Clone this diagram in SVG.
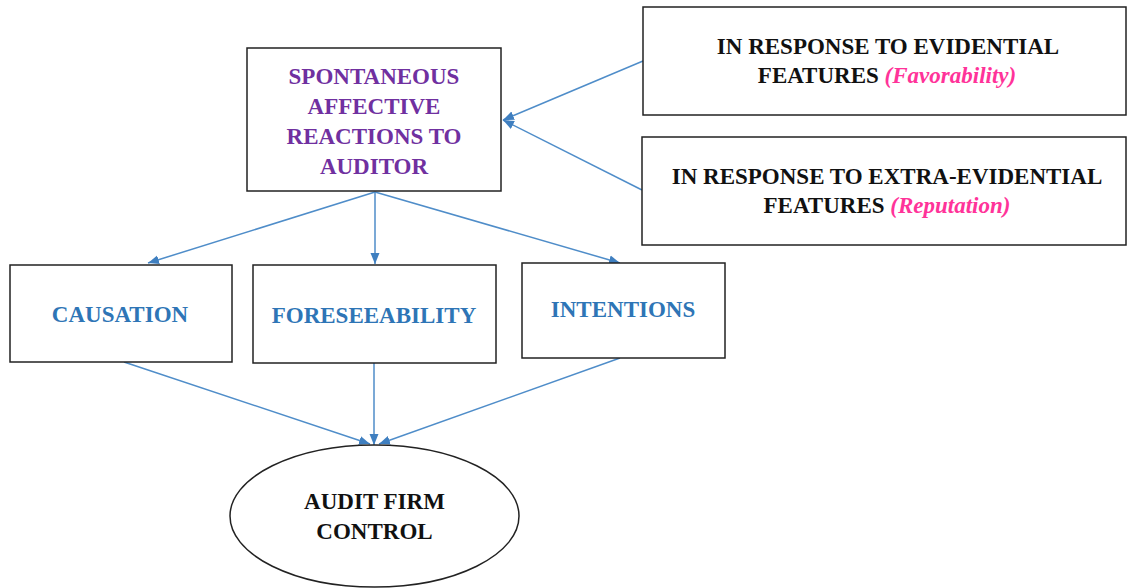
<svg xmlns="http://www.w3.org/2000/svg" width="1127" height="588" viewBox="0 0 1127 588">
<defs>
<marker id="ah" markerUnits="userSpaceOnUse" markerWidth="12" markerHeight="12" viewBox="0 0 12 12" refX="11" refY="6" orient="auto">
<path d="M0,1.5 L11,6 L0,10.5 Z" fill="#3F7FC0"/>
</marker>
</defs>
<g id="connectors" stroke="#4F8DC9" stroke-width="1.5" fill="none" marker-end="url(#ah)">
<line x1="643" y1="61" x2="503" y2="120"/>
<line x1="642" y1="190" x2="503" y2="120"/>
<line x1="375" y1="192" x2="148" y2="263"/>
<line x1="375" y1="192" x2="375" y2="264"/>
<line x1="375" y1="192" x2="620" y2="263"/>
<line x1="124" y1="362" x2="370" y2="444"/>
<line x1="374" y1="363" x2="374" y2="445"/>
<line x1="620" y1="358" x2="379" y2="444"/>
</g>
<g id="spontaneous">
<rect x="247" y="48" width="254" height="143" fill="#fff" stroke="#222" stroke-width="1.5"/>
<text x="374" y="84" font-family="Liberation Serif" font-size="23" font-weight="bold" text-anchor="middle" fill="#7030A0">SPONTANEOUS</text>
<text x="374" y="114" font-family="Liberation Serif" font-size="23" font-weight="bold" text-anchor="middle" fill="#7030A0">AFFECTIVE</text>
<text x="374" y="144" font-family="Liberation Serif" font-size="23" font-weight="bold" text-anchor="middle" fill="#7030A0">REACTIONS TO</text>
<text x="374" y="174" font-family="Liberation Serif" font-size="23" font-weight="bold" text-anchor="middle" fill="#7030A0">AUDITOR</text>
</g>
<g id="evidential">
<rect x="643" y="7" width="483" height="108" fill="#fff" stroke="#222" stroke-width="1.5"/>
<text x="888" y="54" font-family="Liberation Serif" font-size="23" font-weight="bold" text-anchor="middle" fill="#111">IN RESPONSE TO EVIDENTIAL</text>
<text x="887" y="83" font-family="Liberation Serif" font-size="23" font-weight="bold" text-anchor="middle" fill="#111">FEATURES <tspan fill="#FF3399" font-style="italic">(Favorability)</tspan></text>
</g>
<g id="extra-evidential">
<rect x="642" y="137" width="484" height="108" fill="#fff" stroke="#222" stroke-width="1.5"/>
<text x="887" y="184" font-family="Liberation Serif" font-size="23" font-weight="bold" text-anchor="middle" fill="#111">IN RESPONSE TO EXTRA-EVIDENTIAL</text>
<text x="887" y="213" font-family="Liberation Serif" font-size="23" font-weight="bold" text-anchor="middle" fill="#111">FEATURES <tspan fill="#FF3399" font-style="italic">(Reputation)</tspan></text>
</g>
<g id="causation">
<rect x="10" y="265" width="222" height="97" fill="#fff" stroke="#222" stroke-width="1.5"/>
<text x="120" y="322" font-family="Liberation Serif" font-size="23" font-weight="bold" text-anchor="middle" fill="#2E75B6">CAUSATION</text>
</g>
<g id="foreseeability">
<rect x="253" y="265" width="243" height="98" fill="#fff" stroke="#222" stroke-width="1.5"/>
<text x="374" y="323" font-family="Liberation Serif" font-size="23" font-weight="bold" text-anchor="middle" fill="#2E75B6">FORESEEABILITY</text>
</g>
<g id="intentions">
<rect x="522" y="263" width="203" height="95" fill="#fff" stroke="#222" stroke-width="1.5"/>
<text x="623" y="317" font-family="Liberation Serif" font-size="23" font-weight="bold" text-anchor="middle" fill="#2E75B6">INTENTIONS</text>
</g>
<g id="audit-firm-control">
<ellipse cx="374.5" cy="516" rx="144.5" ry="71" fill="#fff" stroke="#222" stroke-width="1.5"/>
<text x="374.5" y="509" font-family="Liberation Serif" font-size="23" font-weight="bold" text-anchor="middle" fill="#111">AUDIT FIRM</text>
<text x="374.5" y="539" font-family="Liberation Serif" font-size="23" font-weight="bold" text-anchor="middle" fill="#111">CONTROL</text>
</g>
</svg>
